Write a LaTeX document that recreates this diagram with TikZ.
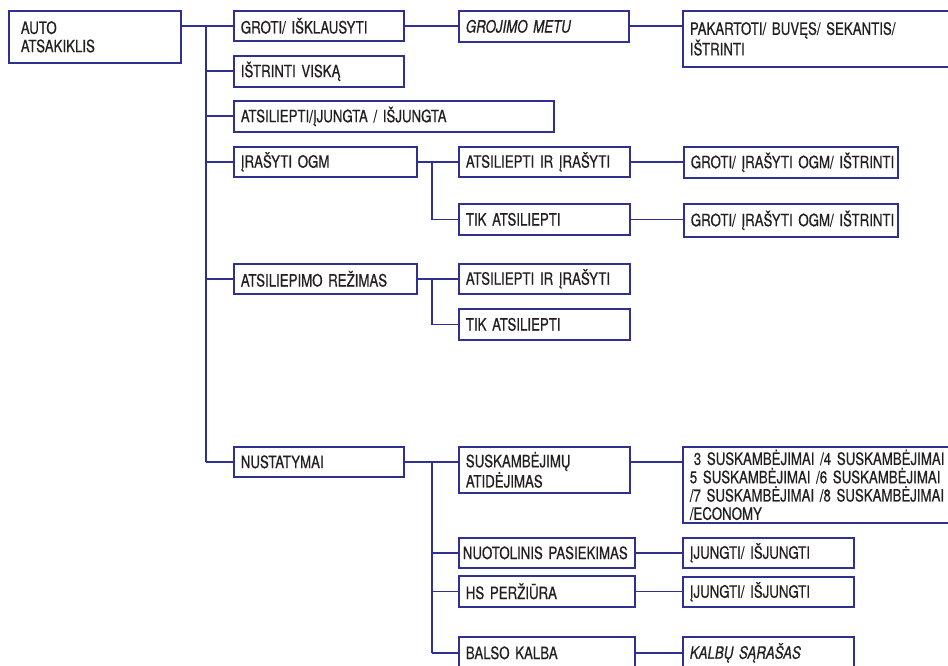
\documentclass[tikz,border=0pt]{standalone}
\usepackage{fontspec}
\setmainfont{TeX Gyre Heros}[FakeStretch=0.78,FakeBold=0.6]
\definecolor{lineblue}{HTML}{2E3192}
\definecolor{txt}{HTML}{231F20}
\tikzset{
  box/.style={draw=lineblue, line width=1.7pt, rectangle, anchor=north west,
    inner xsep=7pt, inner ysep=0pt, align=left, text=txt,
    font=\fontsize{17}{18.3}\selectfont},
  conn/.style={draw=lineblue, line width=1.7pt}
}
% \bx{name}{x1}{y1}{x2}{y2}{text}
\newcommand\bx[6]{%
  \pgfmathsetmacro\bh{#5-#3}%
  \pgfmathsetmacro\tw{#4-#2-14}%
  \node[box, minimum height=\bh pt, text width=\tw pt] (#1) at (#2,#3) {#6};}
\begin{document}
\begin{tikzpicture}[x=1pt,y=-1pt]
\useasboundingbox (0,0) rectangle (948,666);
\clip (0,0) rectangle (948,666);
\bx{auto}{8}{10}{180}{62}{\hspace*{5pt}AUTO\\\hspace*{5pt}ATSAKIKLIS}
\bx{groti}{233}{10}{403}{40}{GROTI/ IŠKLAUSYTI}
\bx{grojimo}{458}{10}{628}{41}{\itshape GROJIMO METU}
\bx{pakartoti}{682}{10}{960}{66}{\mbox{PAKARTOTI/ BUVĘS/ SEKANTIS/}\\IŠTRINTI}
\bx{istrinti}{233}{55}{403}{86}{IŠTRINTI VISKĄ}
\bx{atsiliepti}{233}{100}{553}{131}{ATSILIEPTI/ĮJUNGTA / IŠJUNGTA}
\bx{irasyti}{233}{146}{416}{176}{ĮRAŠYTI OGM}
\bx{airA}{458}{146}{629}{176}{\mbox{ATSILIEPTI IR ĮRAŠYTI}}
\bx{tikA}{458}{203}{629}{234}{TIK ATSILIEPTI}
\bx{grotiA}{683}{146}{897}{177}{\mbox{GROTI/ ĮRAŠYTI OGM/ IŠTRINTI}}
\bx{grotiB}{683}{203}{897}{236}{\mbox{GROTI/ ĮRAŠYTI OGM/ IŠTRINTI}}
\bx{rezimas}{233}{263}{416}{293}{\mbox{ATSILIEPIMO REŽIMAS}}
\bx{airB}{458}{263}{629}{293}{\mbox{ATSILIEPTI IR ĮRAŠYTI}}
\bx{tikB}{458}{308}{629}{339}{TIK ATSILIEPTI}
\bx{nust}{233}{446}{403}{476}{NUSTATYMAI}
\bx{susk}{458}{446}{629}{492}{SUSKAMBĖJIMŲ\\ATIDĖJIMAS}
\bx{nuot}{458}{537}{634}{567}{\hspace*{-3pt}\mbox{NUOTOLINIS PASIEKIMAS}}
\bx{hs}{458}{575}{634}{606}{HS PERŽIŪRA}
\bx{balso}{458}{636}{634}{668}{BALSO KALBA}
\bx{suskC}{682}{446}{970}{522}{\mbox{\hspace*{4pt}3 SUSKAMBĖJIMAI /4 SUSKAMBĖJIMAI}\\\mbox{5 SUSKAMBĖJIMAI /6 SUSKAMBĖJIMAI}\\\mbox{/7 SUSKAMBĖJIMAI /8 SUSKAMBĖJIMAI}\\/ECONOMY}
\bx{ijA}{682}{537}{853}{567}{ĮJUNGTI/ IŠJUNGTI}
\bx{ijB}{682}{576}{853}{606}{ĮJUNGTI/ IŠJUNGTI}
\bx{kalbu}{682}{636}{853}{668}{\itshape KALBŲ SĄRAŠAS}
\coordinate (tr) at (206,0);
\coordinate (sb) at (432,0);
% main trunk
\draw[conn] (auto.east |- groti.west) -- (groti.west);
\draw[conn] (tr |- groti.west) -- (tr |- nust.west);
\foreach \n in {istrinti,atsiliepti,irasyti,rezimas,nust}
  \draw[conn] (tr |- \n.west) -- (\n.west);
% first row
\draw[conn] (groti.east) -- (groti.east -| grojimo.west);
\draw[conn] (grojimo.east) -- (grojimo.east -| pakartoti.west);
% irasyti OGM
\draw[conn] (irasyti.east) -- (irasyti.east -| airA.west);
\draw[conn] (sb |- irasyti.east) -- (sb |- tikA.west) -- (tikA.west);
\draw[conn] (airA.east) -- (airA.east -| grotiA.west);
\draw[conn] (tikA.east) -- (tikA.east -| grotiB.west);
% rezimas
\draw[conn] (rezimas.east) -- (rezimas.east -| airB.west);
\draw[conn] (sb |- rezimas.east) -- (sb |- tikB.west) -- (tikB.west);
% nustatymai
\draw[conn] (nust.east) -- (nust.east -| susk.west);
\draw[conn] (sb |- nust.east) -- (sb |- balso.west);
\foreach \n in {nuot,hs,balso}
  \draw[conn] (sb |- \n.west) -- (\n.west);
\draw[conn] (susk.east |- nust.east) -- (suskC.west |- nust.east);
\draw[conn] (nuot.east) -- (nuot.east -| ijA.west);
\draw[conn] (hs.east) -- (hs.east -| ijB.west);
\draw[conn] (balso.east) -- (balso.east -| kalbu.west);
\end{tikzpicture}
\end{document}
